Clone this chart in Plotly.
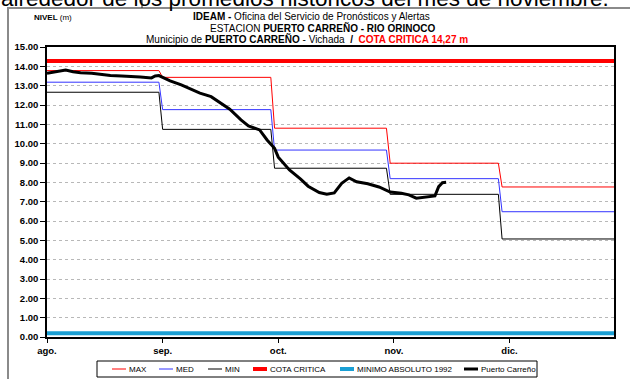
import pandas as pd
import plotly.graph_objects as go

# ---- data ----
month_labels = ["ago.", "sep.", "oct.", "nov.", "dic."]
max_level = [13.78, 13.43, 10.80, 8.99, 7.76]   # monthly historical maximum
med_level = [13.18, 11.76, 9.67, 8.19, 6.48]    # monthly historical mean
min_level = [12.66, 10.74, 8.73, 7.38, 5.07]    # monthly historical minimum
cota_critica = 14.27
minimo_absoluto_1992 = 0.19

# observed daily level at Puerto Carreño (days counted from 1 Aug)
obs_day = [0, 2, 5, 7, 9, 12, 14, 17, 20, 22, 25, 28, 29, 30, 33, 36, 38, 41, 44,
           46, 49, 52, 54, 57, 59, 61, 62, 65, 68, 70, 73, 75, 77, 79, 81, 83, 86,
           89, 92, 95, 97, 99, 102, 104, 105, 106, 107]
obs_level = [13.64, 13.72, 13.81, 13.72, 13.67, 13.64, 13.59, 13.53, 13.50, 13.49,
             13.45, 13.40, 13.50, 13.52, 13.25, 13.04, 12.87, 12.61, 12.43, 12.17,
             11.78, 11.23, 10.92, 10.71, 10.19, 9.76, 9.30, 8.64, 8.17, 7.80, 7.47,
             7.38, 7.45, 7.95, 8.23, 8.03, 7.93, 7.76, 7.50, 7.43, 7.35, 7.18, 7.26,
             7.30, 7.78, 7.98, 8.00]

START = pd.Timestamp("2011-08-01")
END = pd.Timestamp("2011-12-31")
days = pd.date_range(START, END, freq="D")
midx = [d.month - 8 for d in days]
max_daily = [max_level[i] for i in midx]
med_daily = [med_level[i] for i in midx]
min_daily = [min_level[i] for i in midx]
obs_dates = [START + pd.Timedelta(days=d) for d in obs_day]
tick_dates = [START + pd.Timedelta(days=31 * k) for k in range(len(month_labels))]

FONT = "Arial, Liberation Sans, sans-serif"

series = [
    dict(name="MAX", x=days, y=max_daily, color="#ff0000", width=1),
    dict(name="MED", x=days, y=med_daily, color="#3333ff", width=1),
    dict(name="MIN", x=days, y=min_daily, color="#000000", width=1),
    dict(name="COTA CRITICA", x=[START, END], y=[cota_critica] * 2, color="#ff0000", width=4),
    dict(name="MINIMO ABSOLUTO 1992", x=[START, END], y=[minimo_absoluto_1992] * 2,
         color="#1a9fd4", width=4),
    dict(name="Puerto Carreño", x=obs_dates, y=obs_level, color="#000000", width=3),
]

fig = go.Figure()
for s in series:
    fig.add_trace(go.Scatter(x=s["x"], y=s["y"], mode="lines", name=s["name"],
                             line=dict(color=s["color"], width=s["width"]),
                             showlegend=False))

# ---- geometry helpers (pixels -> paper) ----
W, H = 630, 379
ML, MR, MT, MB = 47, 16, 47, 42
PW, PH = W - ML - MR, H - MT - MB


def px(x):
    return (x - ML) / PW


def py(y):
    return (H - MB - y) / PH


shapes = []
annotations = []

# outer frame (left and top edges)
shapes.append(dict(type="line", xref="paper", yref="paper", x0=px(8), x1=px(8),
                   y0=py(8), y1=py(382), line=dict(color="#8a8a8a", width=2)))
shapes.append(dict(type="line", xref="paper", yref="paper", x0=px(7), x1=px(632),
                   y0=py(8), y1=py(8), line=dict(color="#8a8a8a", width=2)))
shapes.append(dict(type="line", xref="paper", yref="paper", x0=px(142), x1=px(142),
                   y0=py(-2), y1=py(8), line=dict(color="#222", width=1)))

# paragraph text above the frame
annotations.append(dict(text="alrededor de los promedios históricos del mes de noviembre.",
                        xref="paper", yref="paper", x=px(611), y=py(-1.5),
                        xanchor="right", yanchor="middle", showarrow=False,
                        font=dict(family=FONT, size=22.5, color="#000")))

# titles
annotations += [
    dict(text="<b>NIVEL</b> (m)", x=px(32), y=py(17), xanchor="left"),
    dict(text="<b>IDEAM -</b> Oficina del Servicio de Pronósticos y Alertas",
         x=px(311), y=py(16.5), xanchor="center"),
    dict(text="ESTACION <b>PUERTO CARREÑO - RIO ORINOCO</b>",
         x=px(322), y=py(28), xanchor="center"),
    dict(text="Municipio de <b>PUERTO CARREÑO</b> - Vichada  <b>/</b>  "
              "<b><span style='color:#ff0000'>COTA CRITICA 14,27 m</span></b>",
         x=px(307), y=py(39.5), xanchor="center"),
]
for a in annotations[1:]:
    a.update(xref="paper", yref="paper", yanchor="middle", showarrow=False)
annotations[1]["font"] = dict(family=FONT, size=8, color="#000")
for a in annotations[2:]:
    a["font"] = dict(family=FONT, size=10, color="#000")

# legend box
LX0, LX1, LY0, LY1 = 97, 537, 361, 377
shapes.append(dict(type="rect", xref="paper", yref="paper", x0=px(LX0), x1=px(LX1),
                   y0=py(LY0), y1=py(LY1), line=dict(color="#000", width=1),
                   fillcolor="white"))
leg_start = [112, 159, 208, 253, 340, 464]
leg_len = 14
ly = (LY0 + LY1) / 2
for s, x0 in zip(series, leg_start):
    shapes.append(dict(type="line", xref="paper", yref="paper", x0=px(x0),
                       x1=px(x0 + leg_len), y0=py(ly), y1=py(ly),
                       line=dict(color=s["color"], width=s["width"])))
    annotations.append(dict(text=s["name"], xref="paper", yref="paper",
                            x=px(x0 + leg_len + 0.5), y=py(ly), xanchor="left",
                            yanchor="middle", showarrow=False,
                            font=dict(family=FONT, size=8, color="#000")))

fig.update_layout(
    width=W, height=H,
    margin=dict(l=ML, r=MR, t=MT, b=MB),
    paper_bgcolor="white", plot_bgcolor="white",
    font=dict(family=FONT, color="#000"),
    shapes=shapes, annotations=annotations,
    showlegend=False,
)
fig.update_xaxes(
    type="date", range=[START, END],
    tickvals=tick_dates, ticktext=[f"<b>{m}</b>" for m in month_labels],
    tickfont=dict(family=FONT, size=9.5, color="#000"),
    ticks="outside", ticklen=4, tickcolor="#000",
    showgrid=False, zeroline=False,
    showline=True, linecolor="#000", linewidth=1.5, mirror=True,
)
yvals = list(range(0, 16))
fig.update_yaxes(
    range=[0, 15], tickvals=yvals, ticktext=[f"<b>{v:.2f}</b>" for v in yvals],
    tickfont=dict(family=FONT, size=9.5, color="#000"),
    ticks="outside", ticklen=5, tickcolor="#000",
    showgrid=True, gridcolor="#b8b8b8", griddash="dot", gridwidth=1,
    zeroline=False, showline=True, linecolor="#000", linewidth=1.5, mirror=True,
)

fig.write_html("out.html")
